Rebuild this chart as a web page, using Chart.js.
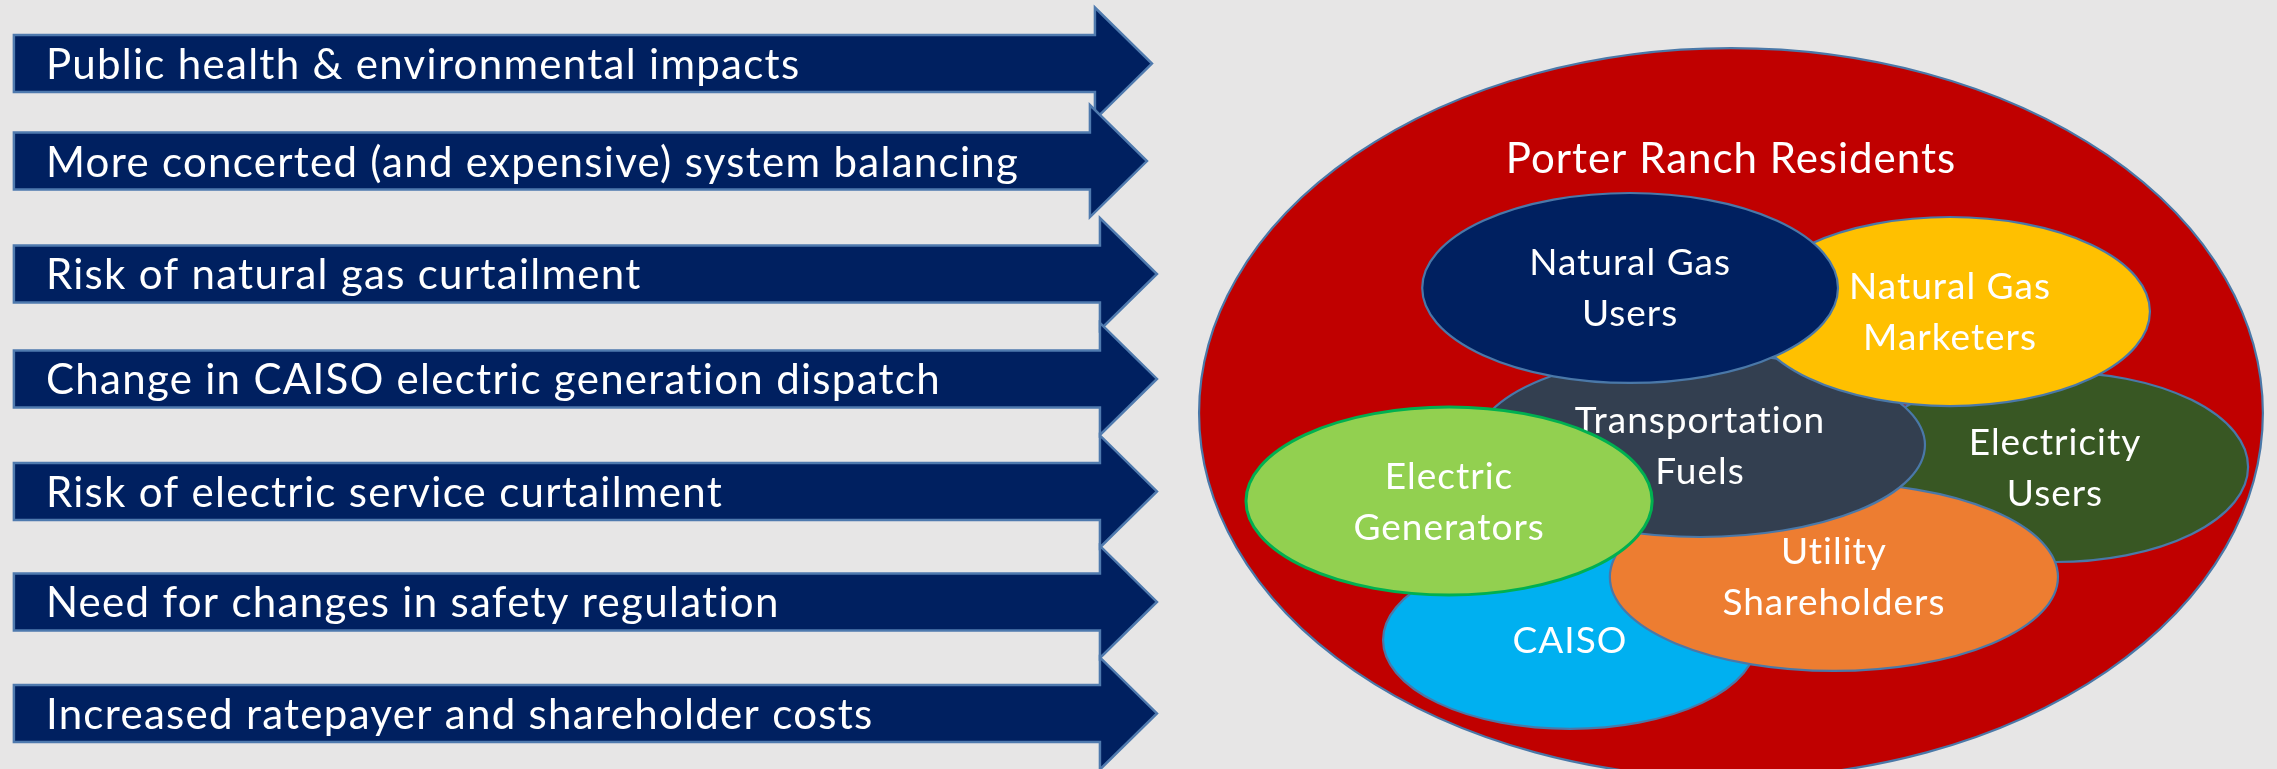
<!DOCTYPE html>
<html lang="en">
<head>
<meta charset="UTF-8">
<title>Porter Ranch leak: impacts and stakeholders</title>
<script src="https://cdn.jsdelivr.net/npm/chart.js@4.4.1/dist/chart.umd.min.js"></script>
<style>
  html, body { margin: 0; padding: 0; background: #e7e6e6; }
  #wrap { width: 2277px; height: 769px; }
</style>
</head>
<body>
<div id="wrap"><canvas id="diagram" width="2277" height="769"></canvas></div>
<script>
// left side: one arrow per impact
const arrowLabels = [
    'Public health & environmental impacts',
    'More concerted (and expensive) system balancing',
    'Risk of natural gas curtailment',
    'Change in CAISO electric generation dispatch',
    'Risk of electric service curtailment',
    'Need for changes in safety regulation',
    'Increased ratepayer and shareholder costs'
];
// row of each arrow (% of slide height, from the top) and where its point ends (% of width)
const arrowRows = [8.26, 20.94, 35.63, 49.28, 63.91, 78.28, 92.78];
const arrowReach = [50.59, 50.37, 50.81, 50.81, 50.81, 50.81, 50.81];
const arrowBase = 0.61;

// right side: stakeholder groups, back to front
const groupLabels = [
    ['Porter Ranch Residents'],
    ['Electricity', 'Users'],
    ['CAISO'],
    ['Utility', 'Shareholders'],
    ['Transportation', 'Fuels'],
    ['Natural Gas', 'Marketers'],
    ['Natural Gas', 'Users'],
    ['Electric', 'Generators']
];
const groupX = [76.02, 90.25, 68.95, 80.54, 74.66, 85.64, 71.59, 63.64];
const groupY = [53.71, 60.73, 83.22, 75.03, 57.87, 40.51, 37.45, 65.15];
const groupSpanX = [23.36, 8.48, 8.21, 9.84, 9.88, 8.78, 9.13, 8.92];
const groupSpanY = [47.46, 12.35, 11.57, 12.22, 11.96, 12.29, 12.35, 12.22];

const groupFill = ['#c00000', '#385723', '#00b0f0', '#ed7d31', '#333f50', '#ffc000', '#002060', '#92d050'];
const groupEdge = ['#4a78a8', '#4a78a8', '#4a78a8', '#4a78a8', '#4a78a8', '#4a78a8', '#4a78a8', '#00b050'];

const look = {
    arrowFill: '#002060',
    arrowEdge: '#4f7aae',
    bodyHalf: 28.5,
    headHalf: 56,
    headLen: 57,
    textInset: 32,
    font: 'Lato',
    arrowSize: 42,
    arrowTrack: '1.3px',
    groupSize: 37,
    titleSize: 42,
    labelTrack: '1px',
    titleDrop: 125,
    lineGap: 51
};

function putText(ctx, text, x, y, align, track) {
    ctx.save();
    // non-zero tracking also turns off Lato's "ti" ligature
    ctx.letterSpacing = track;
    ctx.textAlign = align;
    ctx.textBaseline = 'alphabetic';
    ctx.fillText(text, x, y);
    ctx.restore();
}

const diagramPlugin = {
    id: 'diagram',
    afterDatasetsDraw(chart) {
        const ctx = chart.ctx;
        const xs = chart.scales.x;
        const ys = chart.scales.y;

        // arrows
        const x0 = xs.getPixelForValue(arrowBase);
        chart.getDatasetMeta(0).data.forEach((pt, i) => {
            const tip = pt.x, cy = pt.y;
            const neck = tip - look.headLen;
            ctx.save();
            ctx.beginPath();
            ctx.moveTo(x0, cy - look.bodyHalf);
            ctx.lineTo(neck, cy - look.bodyHalf);
            ctx.lineTo(neck, cy - look.headHalf);
            ctx.lineTo(tip, cy);
            ctx.lineTo(neck, cy + look.headHalf);
            ctx.lineTo(neck, cy + look.bodyHalf);
            ctx.lineTo(x0, cy + look.bodyHalf);
            ctx.closePath();
            ctx.fillStyle = look.arrowFill;
            ctx.fill();
            ctx.lineWidth = 2.5;
            ctx.strokeStyle = look.arrowEdge;
            ctx.stroke();
            ctx.fillStyle = '#ffffff';
            ctx.font = look.arrowSize + 'px ' + look.font;
            putText(ctx, arrowLabels[i], x0 + look.textInset, cy + 15.5, 'left', look.arrowTrack);
            ctx.restore();
        });

        // groups
        chart.getDatasetMeta(1).data.forEach((pt, i) => {
            const rx = Math.abs(xs.getPixelForValue(groupX[i] + groupSpanX[i]) - pt.x);
            const ry = Math.abs(ys.getPixelForValue(groupY[i] + groupSpanY[i]) - pt.y);
            ctx.save();
            ctx.beginPath();
            ctx.ellipse(pt.x, pt.y, rx, ry, 0, 0, Math.PI * 2);
            ctx.fillStyle = groupFill[i];
            ctx.fill();
            ctx.lineWidth = i === 7 ? 3 : 2.2;
            ctx.strokeStyle = groupEdge[i];
            ctx.stroke();
            ctx.fillStyle = '#ffffff';
            const lines = groupLabels[i];
            if (i === 0) {
                ctx.font = look.titleSize + 'px ' + look.font;
                putText(ctx, lines[0], pt.x, pt.y - ry + look.titleDrop, 'center', look.labelTrack);
            } else {
                ctx.font = look.groupSize + 'px ' + look.font;
                lines.forEach((line, k) => {
                    const off = (k - (lines.length - 1) / 2) * look.lineGap;
                    putText(ctx, line, pt.x, pt.y + 13 + off, 'center', look.labelTrack);
                });
            }
            ctx.restore();
        });
    }
};

new Chart(document.getElementById('diagram'), {
    type: 'scatter',
    data: {
        datasets: [
            {
                label: 'Impacts',
                data: arrowRows.map((y, i) => ({ x: arrowReach[i], y: y })),
                pointRadius: 0
            },
            {
                label: 'Stakeholders',
                data: groupX.map((x, i) => ({ x: x, y: groupY[i] })),
                pointRadius: 0
            }
        ]
    },
    options: {
        responsive: false,
        animation: false,
        events: [],
        layout: { padding: 0 },
        scales: {
            x: { type: 'linear', min: 0, max: 100, display: false },
            y: { type: 'linear', min: 0, max: 100, reverse: true, display: false }
        },
        plugins: {
            legend: { display: false },
            tooltip: { enabled: false }
        }
    },
    plugins: [diagramPlugin]
});
</script>
</body>
</html>
